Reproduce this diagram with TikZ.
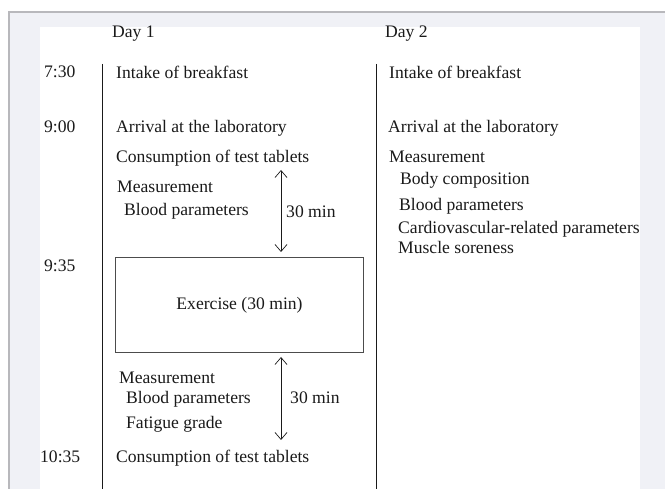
\documentclass[tikz,border=0pt]{standalone}
\usepackage{fontspec}
\setmainfont{Liberation Serif}
\usepackage{tikz}
\usetikzlibrary{arrows.meta, positioning}
\definecolor{pagegray}{HTML}{F0F1F6}
\definecolor{rulegray}{HTML}{B8B8BC}
\definecolor{inkgray}{HTML}{1A1A1A}
\tikzset{
  txt/.style={anchor=base west, inner sep=0pt, text=inkgray, font=\fontsize{17.6}{20}\selectfont},
  timeline/.style={draw=inkgray, line width=0.9pt},
  span/.style={draw=inkgray, line width=0.7pt, {Straight Barb[length=7pt,width=12pt]}-{Straight Barb[length=7pt,width=12pt]}},
  exbox/.style={draw=black!70, line width=0.9pt, minimum width=248pt, minimum height=95pt, inner sep=0pt, text=inkgray, font=\fontsize{17.6}{20}\selectfont}
}
\begin{document}
\begin{tikzpicture}[x=1pt, y=-1pt]
        % page and panel
        \useasboundingbox (0,0) rectangle (665,489);
        \fill[pagegray] (9,12) rectangle (665,489);
        \draw[rulegray, line width=1.2pt] (9,489) -- (9,12) -- (665,12);
        \fill[white] (40,27) rectangle (640,489);
        % columns
        \coordinate (d1top) at (102,64);
        \coordinate (d1bot) at (102,489);
        \coordinate (d2top) at (376,64);
        \coordinate (d2bot) at (376,489);
        \draw[timeline] (d1top) -- (d1bot);
        \draw[timeline] (d2top) -- (d2bot);
        \node[txt] (day1) at (112,38) {Day 1};
        \node[txt] (day2) at (385,38) {Day 2};
        % times
        \node[txt] (t730) at (44,78) {7:30};
        \node[txt] (t900) at (44,133) {9:00};
        \node[txt] (t935) at (44,272) {9:35};
        \node[txt] (t1035) at (40,463) {10:35};
        % day 1
        \node[txt] (breakfast1) at (116,79) {Intake of breakfast};
        \node[txt] (arrival1) at (116,133) {Arrival at the laboratory};
        \node[txt] (tablets1) at (116,163) {Consumption of test tablets};
        \node[txt] (meas1) at (117,193) {Measurement};
        \node[txt] (blood1) at (124,216) {Blood parameters};
        \node[txt] (min1) at (286,218) {30 min};
        \coordinate (a1top) at (281,170);
        \coordinate (a1bot) at (281,252);
        \draw[span] (a1top) -- (a1bot);
        \node[exbox] (exercise) at (239.5,305) {Exercise (30 min)};
        \coordinate (a2top) at (281,357);
        \coordinate (a2bot) at (281,440);
        \draw[span] (a2top) -- (a2bot);
        \node[txt] (meas2) at (119,384) {Measurement};
        \node[txt] (blood2) at (126,404) {Blood parameters};
        \node[txt] (min2) at (290,404) {30 min};
        \node[txt] (fatigue) at (126,429) {Fatigue grade};
        \node[txt] (tablets2) at (116,463) {Consumption of test tablets};
        % day 2
        \node[txt] (breakfast2) at (389,79) {Intake of breakfast};
        \node[txt] (arrival2) at (388,133) {Arrival at the laboratory};
        \node[txt] (meas3) at (389,163) {Measurement};
        \node[txt] (body) at (400,185) {Body composition};
        \node[txt] (blood3) at (399,211) {Blood parameters};
        \node[txt] (cardio) at (398,234) {Cardiovascular-related parameters};
        \node[txt] (muscle) at (398,254) {Muscle soreness};
      \end{tikzpicture}
\end{document}
